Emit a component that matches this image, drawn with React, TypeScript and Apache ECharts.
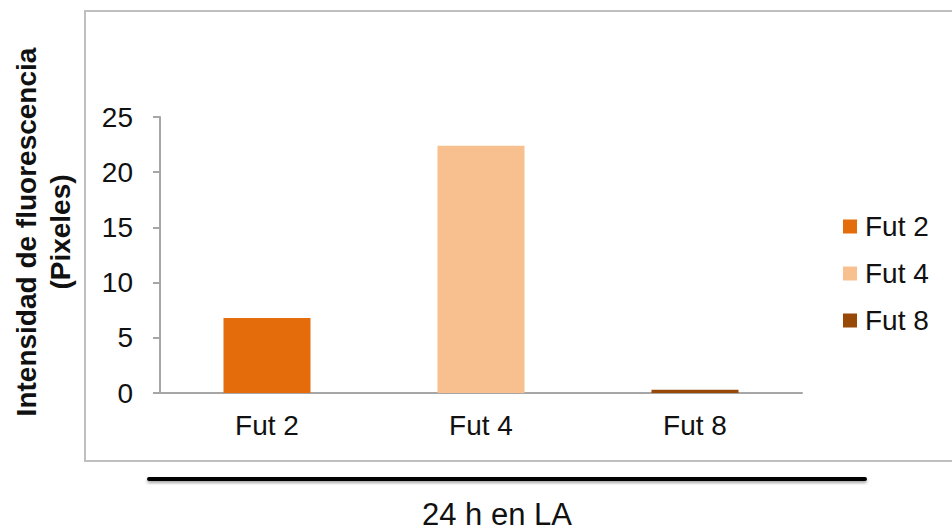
import React, { useEffect, useRef } from "react";
import * as echarts from "echarts";

const categories = ["Fut 2", "Fut 4", "Fut 8"];
const seriesNames = ["Fut 2", "Fut 4", "Fut 8"];
const seriesValues: (number | null)[][] = [
  [6.8, null, null],
  [null, 22.4, null],
  [null, null, 0.3],
];
const seriesColors = ["#E46C0A", "#F9C08F", "#984807"];
const yTicks = { min: 0, max: 25, interval: 5 };
const yTitleLines = ["Intensidad de fluorescencia", "(Pixeles)"];
const footerText = "24 h en LA";

const FONT = "'Liberation Sans', Arial, sans-serif";

export default function App() {
  const ref = useRef<HTMLDivElement>(null);

  useEffect(() => {
    if (!ref.current) return;
    const chart = echarts.init(ref.current, undefined, { renderer: "svg" });
    chart.setOption({
      animation: false,
      backgroundColor: "#ffffff",
      textStyle: { fontFamily: FONT },
      grid: { left: 160, right: 150, top: 117, bottom: 139 },
      legend: {
        orient: "vertical",
        left: 843,
        top: 210,
        padding: 0,
        itemWidth: 14,
        itemHeight: 14,
        itemGap: 14,
        icon: "rect",
        data: seriesNames,
        textStyle: {
          fontFamily: FONT,
          fontSize: 28,
          color: "#111",
          lineHeight: 33,
          padding: [0, 0, 0, 3],
        },
      },
      xAxis: {
        type: "category",
        data: categories,
        axisLine: { lineStyle: { color: "#A6A6A6", width: 2 } },
        axisTick: { length: 7, lineStyle: { color: "#A6A6A6", width: 2 } },
        axisLabel: { fontFamily: FONT, fontSize: 28, color: "#111", margin: 18 },
      },
      yAxis: {
        type: "value",
        min: yTicks.min,
        max: yTicks.max,
        interval: yTicks.interval,
        splitLine: { show: false },
        axisLine: { show: true, lineStyle: { color: "#A6A6A6", width: 2 } },
        axisTick: { show: true, length: 7, lineStyle: { color: "#A6A6A6", width: 2 } },
        axisLabel: { fontFamily: FONT, fontSize: 28, color: "#111", margin: 27 },
      },
      series: seriesNames.map((name, i) => ({
        name,
        type: "bar",
        data: seriesValues[i],
        barWidth: 87,
        barGap: "-100%",
        itemStyle: { color: seriesColors[i] },
      })),
      graphic: [
        {
          type: "rect",
          silent: true,
          shape: { x: 85, y: 11, width: 920, height: 450 },
          style: { fill: "none", stroke: "#BFBFBF", lineWidth: 2 },
          z: -1,
        },
        {
          type: "text",
          x: 43,
          y: 232,
          rotation: Math.PI / 2,
          style: {
            text: yTitleLines.join("\n"),
            fontFamily: FONT,
            fontSize: 28,
            fontWeight: "bold",
            lineHeight: 34,
            fill: "#111",
            align: "center",
            verticalAlign: "middle",
          },
        },
        {
          // thick underline bar above the footer caption
          type: "rect",
          shape: { x: 147, y: 477, width: 720, height: 4, r: 2 },
          style: {
            fill: "#000",
            shadowBlur: 3,
            shadowOffsetY: 2,
            shadowColor: "rgba(0,0,0,0.35)",
          },
        },
        {
          type: "text",
          x: 497,
          y: 514,
          style: {
            text: footerText,
            fontFamily: FONT,
            fontSize: 31,
            fill: "#111",
            align: "center",
            verticalAlign: "middle",
          },
        },
      ],
    });
    return () => chart.dispose();
  }, []);

  return (
    <div
      ref={ref}
      style={{ position: "fixed", left: 0, top: 0, width: 952, height: 532 }}
    />
  );
}
